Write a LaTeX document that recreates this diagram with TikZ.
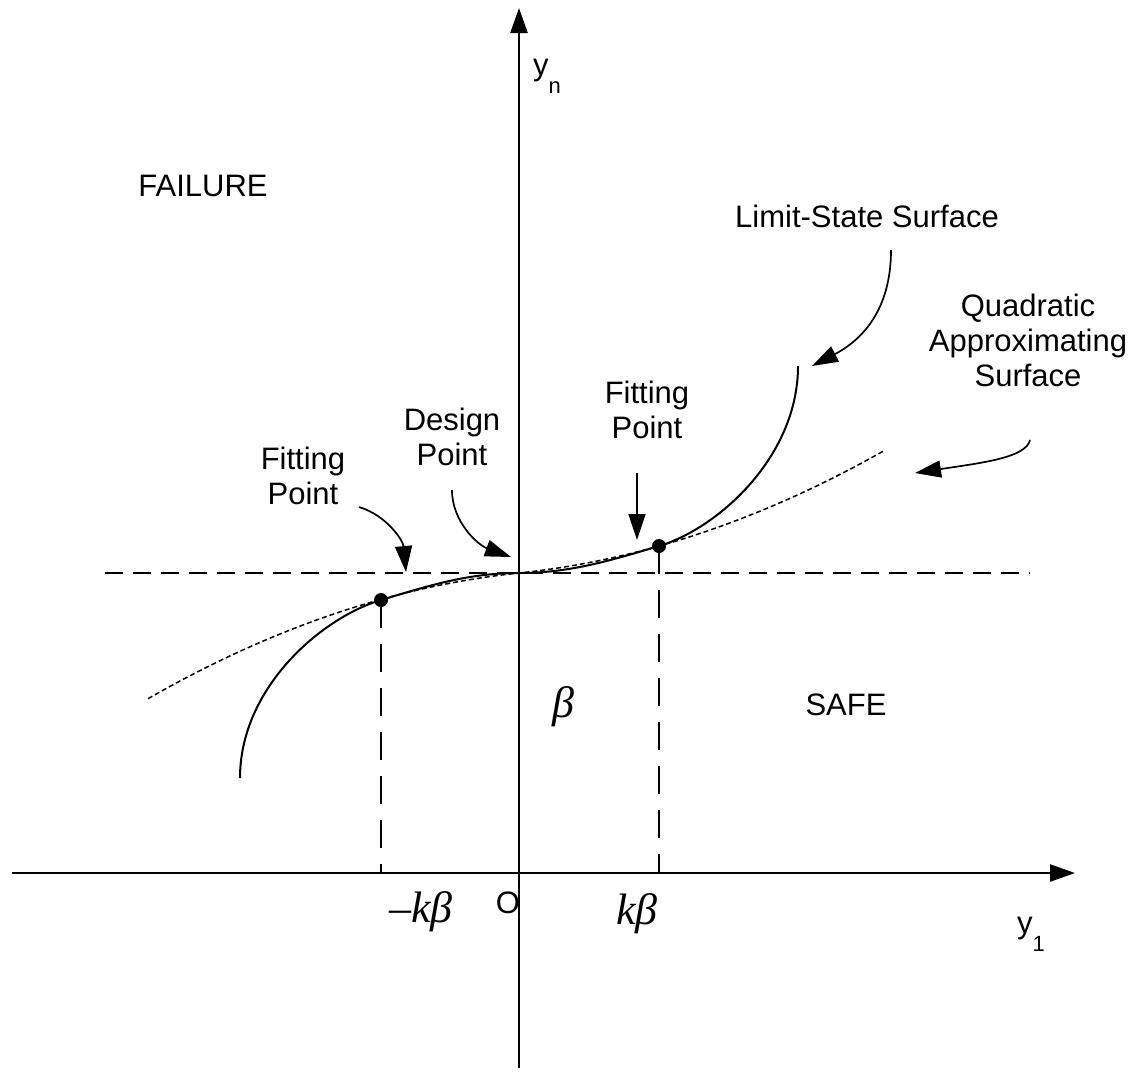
\documentclass[tikz,border=0pt]{standalone}
\usepackage{fontspec}
\setmainfont{Liberation Sans}
\newfontfamily\greekserif{Liberation Serif}
\usetikzlibrary{arrows.meta}
\begin{document}
\begin{tikzpicture}[x=0.5pt,y=-0.5pt,
  axis/.style={line width=1.2pt,-{Triangle[length=12.5pt,width=8.5pt]}},
  pointer/.style={line width=0.85pt,-{Triangle[length=13pt,width=8.5pt]}},
  guide/.style={line width=0.85pt,dash pattern=on 9pt off 5pt},
  drop/.style={line width=0.85pt,dash pattern=on 14pt off 8pt},
  lss/.style={line width=1pt},
  quad/.style={line width=0.75pt,dash pattern=on 2.5pt off 1.5pt},
  lbl/.style={font=\fontsize{15.5}{17.5}\selectfont,align=center,inner sep=0pt},
  greek/.style={font=\fontsize{22}{24}\selectfont\greekserif\itshape,inner sep=0pt},
  dot/.style={circle,fill=black,inner sep=0pt,minimum size=7pt}]
\useasboundingbox (0,0) rectangle (1139,1072);
% axes
\coordinate (vbot) at (519,1068);
\coordinate (vtop) at (519,8);
\coordinate (hleft) at (12,873);
\coordinate (hright) at (1075,873);
\draw[axis] (vbot) -- (vtop);
\draw[axis] (hleft) -- (hright);
% horizontal dashed line
\coordinate (gl) at (105,573);
\coordinate (gr) at (1030,573);
\draw[guide] (gl) -- (gr);
% fitting points
\node[dot] (fpl) at (381,600) {};
\node[dot] (fpr) at (659,546) {};
\coordinate (dl) at (381,873);
\coordinate (dr) at (659,873);
\draw[drop] (fpl.center) -- (dl);
\draw[drop] (fpr.center) -- (dr);
% limit-state surface
\coordinate (dp) at (519,573);
\coordinate (lsbot) at (240,778);
\coordinate (lstop) at (798,366);
\draw[lss] (lsbot) .. controls (240,688) and (321,618) .. (fpl.center)
  .. controls (431,585) and (469,573) .. (dp)
  .. controls (569,573) and (609,561) .. (fpr.center)
  .. controls (719,528) and (798,456) .. (lstop);
% quadratic approximating surface
\draw[quad] plot[domain=-371:366,samples=120,smooth] ({519+\x},{573-(0.104*\x+6.33*(\x/100)*(abs(\x)/100))});
% labels
\node[lbl] (yn) at (547,76) {y\raisebox{-1.1ex}{\fontsize{11}{12}\selectfont n}};
\node[lbl] (y1) at (1031,934) {y\raisebox{-1.1ex}{\fontsize{11}{12}\selectfont 1}};
\node[lbl] (fail) at (203,186) {FAILURE};
\node[lbl] (safe) at (846,705) {SAFE};
\node[lbl] (orig) at (508,903) {O};
\node[greek] (beta) at (563,707) {β};
\node[greek] (mkb) at (421,912) {–kβ};
\node[greek] (kb) at (637,914) {kβ};
\node[lbl] (lstext) at (867,216) {Limit-State Surface};
\node[lbl] (qtext) at (1028,340) {Quadratic\\Approximating\\Surface};
\node[lbl] (dtext) at (452,437) {Design\\Point};
\node[lbl] (fltext) at (303,476) {Fitting\\Point};
\node[lbl] (frtext) at (647,410) {Fitting\\Point};
% pointer arrows
\coordinate (a1s) at (891,250);
\coordinate (a1e) at (812,366);
\draw[pointer] (a1s) .. controls (891,310) and (862,340) .. (a1e);
\coordinate (a2s) at (1030,440);
\coordinate (a2e) at (915,473);
\draw[pointer] (a2s) .. controls (1026,458) and (980,463) .. (a2e);
\coordinate (a3s) at (637,473);
\coordinate (a3e) at (637,540);
\draw[pointer] (a3s) -- (a3e);
\coordinate (a4s) at (452,490);
\coordinate (a4e) at (511,557);
\draw[pointer] (a4s) .. controls (452,522) and (478,545) .. (a4e);
\coordinate (a5s) at (359,507);
\coordinate (a5e) at (406,572);
\draw[pointer] (a5s) .. controls (386,515) and (403,540) .. (a5e);
\end{tikzpicture}
\end{document}
